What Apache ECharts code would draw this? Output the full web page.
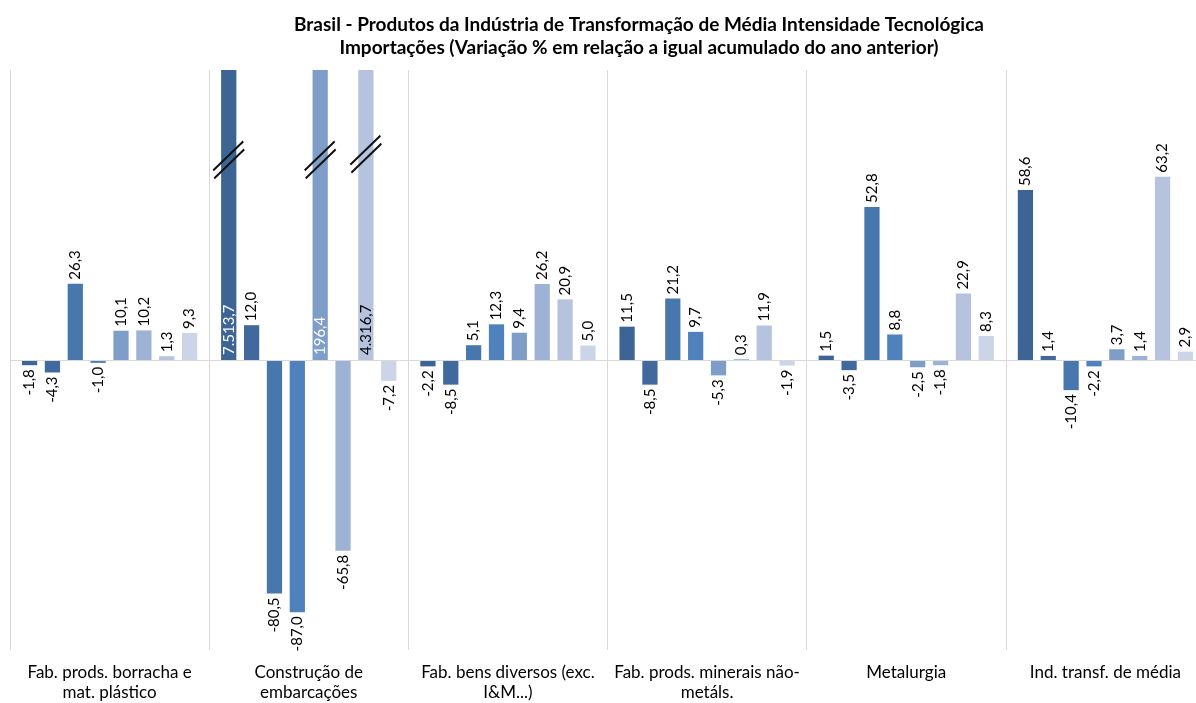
<!DOCTYPE html>
<html>
<head>
<meta charset="utf-8">
<script src="https://cdn.jsdelivr.net/npm/echarts@6/dist/echarts.min.js"></script>
<style>
html,body{margin:0;padding:0;background:#fff;overflow:hidden;}
#chart{width:1205px;height:703px;}
</style>
</head>
<body>
<div id="chart"></div>
<script>
const titleText = 'Brasil - Produtos da Indústria de Transformação de Média Intensidade Tecnológica\nImportações (Variação % em relação a igual acumulado do ano anterior)';
const categories = [
  'Fab. prods. borracha e\nmat. plástico',
  'Construção de\nembarcações',
  'Fab. bens diversos (exc.\nI&M...)',
  'Fab. prods. minerais não-\nmetáls.',
  'Metalurgia',
  'Ind. transf. de média'
];
const serie1 = [-1.8, 7513.7, -2.2, 11.5, 1.5, 58.6];
const serie2 = [-4.3, 12.0, -8.5, -8.5, -3.5, 1.4];
const serie3 = [26.3, -80.5, 5.1, 21.2, 52.8, -10.4];
const serie4 = [-1.0, -87.0, 12.3, 9.7, 8.8, -2.2];
const serie5 = [10.1, 196.4, 9.4, -5.3, -2.5, 3.7];
const serie6 = [10.2, -65.8, 26.2, 0.3, -1.8, 1.4];
const serie7 = [1.3, 4316.7, 20.9, 11.9, 22.9, 63.2];
const serie8 = [9.3, -7.2, 5.0, -1.9, 8.3, 2.9];
const seriesValues = [serie1, serie2, serie3, serie4, serie5, serie6, serie7, serie8];
const seriesColors = ['#3c6494', '#41699d', '#4877ae', '#4f81bd', '#7f9dc9', '#9db2d5', '#b5c3de', '#ccd5e8'];
const insideLabelColors = ['#ffffff', '#ffffff', '#ffffff', '#ffffff', '#ffffff', '#000000', '#000000', '#000000'];
const axisMin = -100, axisMax = 100;
// break marks on truncated bars: [series index, category index, value where the mark sits]
const breakMarks = [[0, 1, 69], [4, 1, 69], [6, 1, 71]];

const FONT = 'Lato, "Open Sans", sans-serif';

function fmt(v) {
  const neg = v < 0;
  const s = Math.abs(v).toFixed(1);
  let [i, d] = s.split('.');
  i = i.replace(/\B(?=(\d{3})+(?!\d))/g, '.');
  return (neg ? '-' : '') + i + ',' + d;
}

const series = seriesValues.map((vals, si) => {
  const data = vals.map(v => {
    let label;
    if (v > axisMax) {
      label = {position: 'insideBottom', rotate: 90, align: 'left', verticalAlign: 'middle', distance: 5, color: insideLabelColors[si]};
    } else if (v >= 0) {
      label = {position: 'top', rotate: 90, align: 'left', verticalAlign: 'middle', distance: 4};
    } else {
      label = {position: 'bottom', rotate: 90, align: 'right', verticalAlign: 'middle', distance: 4};
    }
    return {value: v, label: label};
  });
  const marks = breakMarks.filter(b => b[0] === si).map(b => ({coord: [b[1], b[2]]}));
  const s = {
    name: 'Série ' + (si + 1),
    type: 'bar',
    data: data,
    barGap: '50%',
    barCategoryGap: '12%',
    clip: true,
    itemStyle: {color: seriesColors[si]},
    label: {
      show: true,
      formatter: p => fmt(p.value),
      color: '#000',
      fontFamily: FONT,
      fontSize: 15
    }
  };
  if (marks.length) {
    s.markPoint = {
      silent: true,
      symbol: 'path://M0,29 L30,0 M1,37 L31,8',
      symbolSize: [31, 37],
      itemStyle: {color: '#000', borderColor: '#111', borderWidth: 2},
      label: {show: false},
      data: marks
    };
  }
  if (si === 0) {
    s.markLine = {
      silent: true,
      symbol: 'none',
      label: {show: false},
      lineStyle: {color: '#d9d9d9', width: 1, type: 'solid'},
      data: [{yAxis: 0}]
    };
  }
  return s;
});

const chart = echarts.init(document.getElementById('chart'), null, {renderer: 'canvas'});
chart.setOption({
  animation: false,
  backgroundColor: '#fff',
  title: {
    text: titleText,
    left: 634,
    textAlign: 'center',
    top: 8,
    textStyle: {fontFamily: FONT, fontSize: 19, fontWeight: 'bold', color: '#000', lineHeight: 23}
  },
  grid: {left: 10, right: 0, top: 70, bottom: 50, containLabel: false},
  xAxis: {
    type: 'category',
    data: categories,
    axisLine: {show: false},
    axisTick: {show: false},
    splitLine: {show: true, lineStyle: {color: '#d9d9d9', width: 1}},
    axisLabel: {fontFamily: FONT, fontSize: 17, color: '#000', lineHeight: 20, margin: 13, interval: 0}
  },
  yAxis: {
    type: 'value',
    min: axisMin,
    max: axisMax,
    show: false,
    splitLine: {show: false}
  },
  series: series
});
</script>
</body>
</html>
